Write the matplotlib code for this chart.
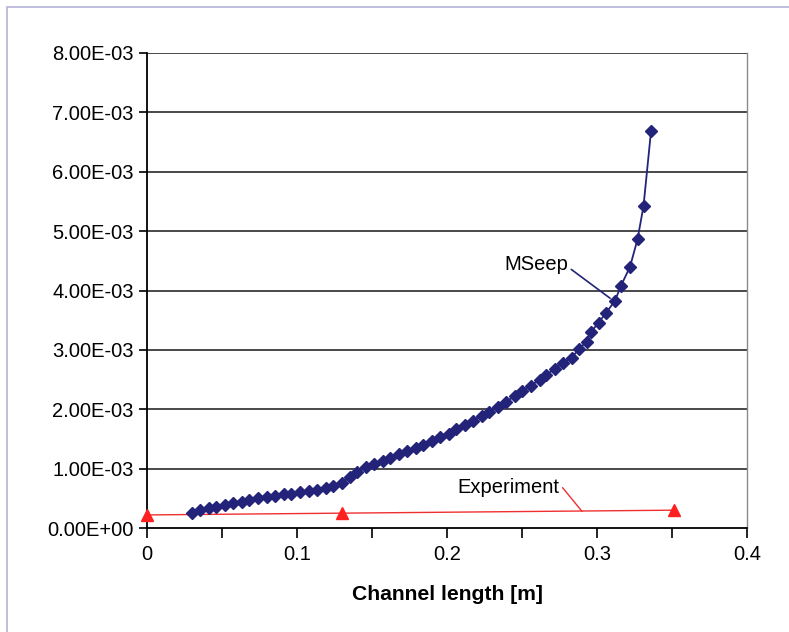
import matplotlib
matplotlib.use("Agg")
import matplotlib.pyplot as plt
from matplotlib.ticker import FuncFormatter, MultipleLocator
from matplotlib.patches import Rectangle

plt.rcParams['font.family'] = ['Liberation Sans', 'DejaVu Sans']

# MSeep series (x in m, y values)
mseep_x = [0.030, 0.035, 0.041, 0.046, 0.052, 0.057, 0.063, 0.068, 0.074, 0.080,
           0.085, 0.091, 0.096, 0.102, 0.108, 0.113, 0.119, 0.124, 0.130, 0.135,
           0.140, 0.146, 0.151, 0.157, 0.162, 0.168, 0.173, 0.179, 0.184, 0.190,
           0.195, 0.201, 0.206, 0.212, 0.217, 0.223, 0.228, 0.234, 0.239, 0.245,
           0.250, 0.256, 0.262, 0.266, 0.272, 0.277, 0.283, 0.288, 0.293, 0.296,
           0.301, 0.306, 0.312, 0.316, 0.322, 0.327, 0.331, 0.336]
mseep_y = [0.25e-3, 0.30e-3, 0.33e-3, 0.36e-3, 0.39e-3, 0.42e-3, 0.44e-3, 0.47e-3, 0.50e-3, 0.52e-3,
           0.54e-3, 0.57e-3, 0.58e-3, 0.60e-3, 0.62e-3, 0.64e-3, 0.67e-3, 0.71e-3, 0.76e-3, 0.86e-3,
           0.95e-3, 1.02e-3, 1.07e-3, 1.13e-3, 1.18e-3, 1.24e-3, 1.29e-3, 1.35e-3, 1.40e-3, 1.47e-3,
           1.53e-3, 1.59e-3, 1.66e-3, 1.74e-3, 1.81e-3, 1.89e-3, 1.96e-3, 2.04e-3, 2.12e-3, 2.22e-3,
           2.30e-3, 2.40e-3, 2.50e-3, 2.58e-3, 2.68e-3, 2.78e-3, 2.87e-3, 3.01e-3, 3.14e-3, 3.30e-3,
           3.46e-3, 3.62e-3, 3.83e-3, 4.08e-3, 4.40e-3, 4.86e-3, 5.42e-3, 6.68e-3]

# Experiment series
exp_x = [0.0, 0.13, 0.351]
exp_y = [0.22e-3, 0.25e-3, 0.30e-3]

x_ticks = [0, 0.1, 0.2, 0.3, 0.4]
x_tick_labels = ['0', '0.1', '0.2', '0.3', '0.4']

fig = plt.figure(figsize=(7.89, 6.32), dpi=100)
ax = fig.add_axes([147/789, 1 - 528/632, 600/789, 475/632])

# figure frame (light purple)
fig.patches.append(Rectangle((7/789, -0.1), 1.2, (1 - 7/632) + 0.1,
                             transform=fig.transFigure, fill=False,
                             edgecolor='#b4b4d8', lw=1.2))

for v in range(1, 9):
    ax.axhline(v * 1e-3, color='#3a3a3a', lw=1.3, zorder=1)

ax.plot(exp_x, exp_y, color='#f03030', lw=1.0, marker='^', ms=8,
        markerfacecolor='#ff2020', markeredgecolor='#ff2020', zorder=3, clip_on=False)
ax.plot(mseep_x, mseep_y, color='#23237a', lw=1.3, marker='D', ms=6,
        markerfacecolor='#23237a', markeredgecolor='#23237a', zorder=4)

ax.set_xlim(0, 0.4)
ax.set_ylim(0, 8e-3)
ax.set_xticks(x_ticks)
ax.set_xticklabels(x_tick_labels)
ax.xaxis.set_minor_locator(MultipleLocator(0.05))
ax.yaxis.set_major_locator(MultipleLocator(1e-3))
ax.yaxis.set_major_formatter(FuncFormatter(lambda v, p: '{:.2E}'.format(v)))

ax.tick_params(axis='both', which='both', direction='out', labelsize=14.5, colors='black')
ax.tick_params(axis='x', which='both', length=7, width=1.2, pad=5)
ax.tick_params(axis='y', which='major', length=6, width=1.2, pad=3.5)

for s in ['left', 'bottom']:
    ax.spines[s].set_color('black')
    ax.spines[s].set_linewidth(1.3)
ax.spines['top'].set_visible(False)
ax.spines['right'].set_color('#8a8a8a')
ax.spines['right'].set_linewidth(1.0)

ax.set_xlabel('Channel length [m]', fontsize=15.2, fontweight='bold', labelpad=15)

# annotations
ax.annotate('MSeep', xy=(0.3087, 3.87e-3), xytext=(0.281, 4.43e-3),
            fontsize=14.5, ha='right', va='center',
            arrowprops=dict(arrowstyle='-', color='#23237a', lw=1.2,
                            shrinkA=0, shrinkB=0, relpos=(1.03, 0.3)))
ax.annotate('Experiment', xy=(0.29, 0.28e-3), xytext=(0.275, 0.68e-3),
            fontsize=14.5, ha='right', va='center',
            arrowprops=dict(arrowstyle='-', color='#f03030', lw=1.0,
                            shrinkA=0, shrinkB=0, relpos=(1.03, 0.5)))

fig.savefig('out.png', dpi=100)
